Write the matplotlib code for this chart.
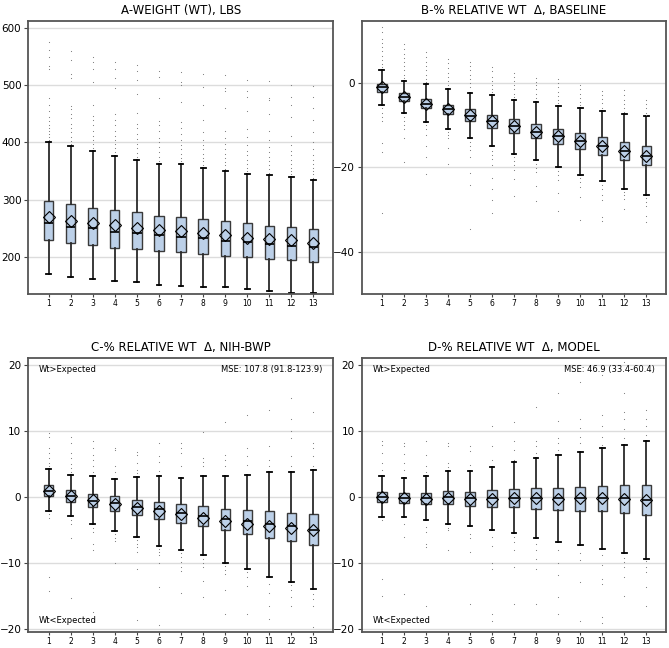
import matplotlib
matplotlib.use("Agg")
from matplotlib import pyplot as plt

visits = list(range(1, 14))

# A - weight, lbs
a_q1 = [229, 224, 220, 216, 213, 210.5, 207.6, 205, 202, 199.4, 197, 194, 191]
a_med = [260, 253, 250, 244, 241, 238, 234.5, 233, 228, 225.7, 222.8, 218.7, 217.5]
a_q3 = [298, 292, 286, 282, 278, 272, 269.5, 266, 262, 259, 254.3, 252, 248]
a_mean = [269, 262.5, 260, 255, 251, 247, 244.4, 241, 237.4, 233, 231, 228.6, 225]
a_lo = [170, 164, 161, 158, 156, 151, 149, 148, 147, 144.5, 140, 137.5, 137]
a_hi = [400, 393, 385, 377, 370, 363, 362, 356, 349.5, 345, 343, 339.6, 334]
a_out = [
    [405, 410, 415, 420, 425, 430, 438, 445, 455, 465, 478, 528, 533, 550, 562, 576],
    [398, 403, 410, 418, 425, 433, 442, 450, 458, 463, 513, 520, 545, 560],
    [390, 397, 405, 412, 420, 430, 440, 447, 465, 505, 528, 540, 550],
    [383, 390, 398, 405, 412, 420, 430, 440, 450, 495, 513, 528, 540],
    [375, 382, 390, 398, 406, 415, 425, 433, 452, 485, 510, 525, 535],
    [368, 375, 383, 392, 400, 408, 420, 430, 437, 478, 515, 525],
    [367, 373, 380, 388, 395, 405, 415, 425, 435, 470, 500, 505, 523],
    [360, 367, 373, 380, 388, 395, 405, 418, 440, 465, 497, 520],
    [354, 360, 366, 372, 380, 388, 398, 408, 420, 460, 490, 495, 518],
    [350, 356, 362, 370, 378, 385, 395, 410, 423, 455, 480, 490, 510],
    [347, 353, 360, 367, 375, 383, 392, 405, 420, 450, 475, 478, 508],
    [344, 350, 356, 362, 370, 378, 385, 395, 412, 445, 465, 480, 500],
    [338, 344, 350, 356, 362, 370, 378, 388, 400, 418, 440, 460, 480, 498],
]

# B - % relative wt change from baseline
b_q1 = [-2.2, -4.3, -6.0, -7.4, -9.0, -10.6, -11.9, -13.1, -14.5, -15.7, -17.1, -18.3, -19.5]
b_med = [-1.0, -3.2, -4.9, -6.2, -7.7, -8.9, -10.2, -11.5, -12.6, -13.7, -14.9, -16.0, -17.2]
b_q3 = [-0.1, -2.3, -3.7, -5.1, -6.2, -7.6, -8.5, -9.6, -11.0, -11.9, -12.8, -13.9, -14.8]
b_mean = [-1.0, -3.2, -4.9, -6.2, -7.6, -9.1, -10.2, -11.5, -12.6, -13.8, -15.0, -16.0, -17.4]
b_lo = [-5.1, -7.2, -9.3, -10.8, -13.0, -15.0, -16.7, -18.3, -19.8, -21.7, -23.3, -25.0, -26.6]
b_hi = [3.1, 0.6, -0.3, -1.3, -2.3, -2.9, -3.9, -4.5, -5.5, -5.8, -6.5, -7.4, -7.9]
b_out = [
    [13.2, 12, 10.5, 9.5, 8.5, 7.5, 6.5, 5.5, 4.5, 3.8, -6, -7, -8, -9, -14.3, -16.3, -30.7],
    [9.2, 8, 7, 6, 5, 4, 3, 2, 1.3, -8, -9, -10, -11, -13, -18.6],
    [7.3, 6.3, 5, 4, 3, 2, 1, 0.3, -10, -11, -12.3, -15, -17.5, -21.6],
    [5.8, 4.7, 3.5, 2.5, 1.5, 0.5, -0.5, -11.5, -12.3, -13, -15.5, -19.2],
    [5.1, 4, 3, 2, 1, 0, -1, -14, -15, -15.9, -17.6, -21.4, -24.2, -34.6],
    [3.9, 2.8, 1.5, 0.5, -0.5, -1.5, -2.2, -16, -17, -18, -19.4, -22.6, -25, -27.6, -30.7],
    [2.3, 1.5, 0.5, -0.5, -1.5, -2.5, -3.3, -17.5, -18.5, -19.5, -20.6, -22.8, -26.8],
    [1.1, 0.3, -0.5, -1.5, -2.5, -3.5, -19.2, -20.2, -21, -24.3, -28],
    [0.9, 0, -1, -2, -3, -4, -4.8, -20.8, -21.8, -23, -26, -30.4],
    [-0.5, -1.5, -2.5, -3.5, -4.5, -5.2, -22.5, -23.5, -24.6, -27, -32.4],
    [-1.8, -2.8, -3.8, -4.8, -5.8, -24.2, -25.2, -26.5, -27.7, -31.7, -32.7],
    [-1.7, -2.8, -4, -5, -6, -6.8, -25.8, -26.5, -27.4, -29.9, -49.7],
    [-4, -5, -6, -7, -7.5, -27.3, -28.2, -29.2, -31.6, -33],
]

# C - % relative wt change vs NIH-BWP
c_q1 = [0.2, -0.65, -1.4, -2.0, -2.7, -3.35, -3.9, -4.4, -5.0, -5.5, -6.1, -6.55, -7.15]
c_med = [1.0, 0.25, -0.5, -0.8, -1.5, -1.8, -2.3, -2.85, -3.35, -3.65, -4.05, -4.4, -4.9]
c_q3 = [1.9, 1.1, 0.5, 0.15, -0.35, -0.7, -1.0, -1.3, -1.7, -1.9, -2.1, -2.4, -2.6]
c_mean = [1.0, 0.25, -0.4, -1.0, -1.6, -2.0, -2.6, -3.1, -3.6, -4.0, -4.4, -4.6, -5.0]
c_lo = [-2.1, -2.9, -4.1, -5.1, -6.0, -7.3, -8.0, -8.8, -9.9, -10.8, -12.1, -12.8, -13.9]
c_hi = [4.3, 3.35, 3.2, 2.85, 3.1, 3.2, 3.0, 3.3, 3.3, 3.45, 3.9, 3.85, 4.15]
c_out = [
    [9.7, 9.1, 7.5, 6.7, 5.9, 5.2, 4.7, -2.5, -3.2, -12.1, -14.2],
    [9.2, 8.3, 6.7, 5.9, 5.1, 4.4, 3.8, -3.5, -4.0, -6.2, -15.3],
    [8.6, 7.5, 6.4, 5.7, 4.7, 3.9, -4.6, -5.3, -7, -8, -17.4],
    [7.5, 7.1, 4.7, 3.9, -5.6, -6.1, -6.6, -10],
    [6.9, 6.4, 5.2, 4.2, 3.7, -6.5, -7, -7.5, -8.3, -10.8, -18.6],
    [8.2, 6.2, 5.4, 4, -7.8, -8.3, -8.8, -10, -13.6, -19.3],
    [8.2, 7.5, 6.7, 4.7, -8.5, -9, -9.8, -10.5, -11.1, -14.5],
    [9.9, 5.9, 5.4, 4.7, -9.4, -10, -10.6, -12.7, -15.1],
    [11.4, 6.4, 5.7, 4.7, -10.4, -11, -11.6, -14, -17.7],
    [12.5, 7.5, 6.2, 4.9, -11.3, -12.1, -13.5, -17.7],
    [13.3, 7.8, 5.7, 4.7, -13.1, -14.5, -16.4, -18.4],
    [15, 11.8, 10, 9, 6.2, 4.7, -13.3, -14, -15.1, -16.4],
    [13, 8.2, 7.5, 6.2, 4.7, -14.6, -15.4, -16.4, -19.7],
]

# D - % relative wt change vs model
d_q1 = [-0.65, -0.8, -1.0, -1.05, -1.25, -1.4, -1.5, -1.7, -1.9, -2.0, -2.1, -2.3, -2.75]
d_med = [0.1, -0.05, -0.15, 0.0, -0.15, -0.15, -0.05, -0.05, -0.05, -0.05, -0.05, -0.15, -0.35]
d_q3 = [0.85, 0.65, 0.65, 0.9, 0.85, 1.1, 1.25, 1.45, 1.45, 1.6, 1.7, 1.8, 1.9]
d_mean = [0.0, -0.05, -0.2, -0.1, -0.2, -0.25, -0.15, -0.15, -0.25, -0.15, -0.15, -0.3, -0.45]
d_lo = [-3.0, -3.0, -3.45, -4.1, -4.3, -5.0, -5.4, -6.1, -6.75, -7.25, -7.8, -8.4, -9.3]
d_hi = [3.25, 2.9, 3.25, 4.0, 4.05, 4.6, 5.35, 6.0, 6.4, 6.85, 7.45, 7.9, 8.6]
d_out = [
    [8.5, 8, 6.7, 5.2, 4.2, -3.5, -12.3, -15],
    [8.2, 7.7, 6.5, 5.2, 4.2, -4, -6, -14.7],
    [8.5, 6.4, 4.7, 3.9, -4.5, -5.3, -7, -7.5, -16.4],
    [8.2, 7.7, 5.2, 4.6, -4.7, -5, -8],
    [7.7, 7, 4.9, -5.5, -6.2, -8.3, -16.2],
    [10.8, 7.7, 5.7, -6, -7.3, -10, -10.8, -17.6, -18.7],
    [11.4, 8.5, 7.2, 5.7, -6, -6.8, -8, -10.6, -16.2],
    [13.7, 8.5, 7.7, 6.7, -7, -8, -9.3, -10.8, -16.1],
    [15.8, 11.5, 9, 8.2, 7.2, -8, -10, -11.8, -15.1, -17.7],
    [17.5, 11.8, 10.5, 9.2, 8.2, -8.5, -9.5, -12.8, -18.8],
    [18.6, 12.5, 10.8, 9.2, 8, -8.8, -10.3, -12.3, -13.1, -18.2, -19.1],
    [20.5, 15.8, 13, 11.8, 10.3, 9, -9.2, -9.8, -10.6, -12, -15],
    [13.2, 11.8, 10.8, 9.5, -9.6, -10.6, -11.3, -13.6, -16.4],
]

FILL = '#bcd0e8'


def draw_panel(ax, title, q1, med, q3, mean, lo, hi, out, ylim, yticks):
    stats = []
    for i in range(len(visits)):
        stats.append(dict(q1=q1[i], med=med[i], q3=q3[i], mean=mean[i],
                          whislo=lo[i], whishi=hi[i], fliers=out[i]))
    ax.bxp(stats, positions=visits, widths=0.42, capwidths=0.22,
           showmeans=True, patch_artist=True,
           boxprops=dict(facecolor=FILL, edgecolor='#3a3a3a', linewidth=1.0),
           whiskerprops=dict(color='#2a2a2a', linewidth=1.3),
           capprops=dict(color='black', linewidth=1.3),
           medianprops=dict(color='black', linewidth=1.2),
           meanprops=dict(marker='D', markerfacecolor='none', markeredgecolor='black',
                          markersize=6.5, markeredgewidth=0.8),
           flierprops=dict(marker='.', markersize=1.6, markerfacecolor='#777777',
                           markeredgecolor='none'))
    ax.set_xlim(0.08, 13.9)
    ax.set_ylim(*ylim)
    ax.set_yticks(yticks)
    ax.set_xticks(visits)
    ax.set_xticklabels([str(v) for v in visits])
    ax.yaxis.grid(True, color='#dcdcdc', linewidth=1.0)
    ax.set_axisbelow(True)
    ax.tick_params(axis='y', labelsize=7.5, length=3, pad=2, color='#444444')
    ax.tick_params(axis='x', labelsize=5.5, length=2, pad=1.5, color='#444444')
    for s in ax.spines.values():
        s.set_color('#555555')
        s.set_linewidth(1.3)
    ax.set_title(title, fontsize=8.5, pad=5)


fig = plt.figure(figsize=(6.69, 6.48), dpi=100)
axA = fig.add_axes([0.0423, 0.5463, 0.4559, 0.4218])
axB = fig.add_axes([0.5406, 0.5463, 0.4549, 0.4218])
axC = fig.add_axes([0.0423, 0.0252, 0.4559, 0.4228])
axD = fig.add_axes([0.5406, 0.0252, 0.4549, 0.4228])

draw_panel(axA, 'A-WEIGHT (WT), LBS', a_q1, a_med, a_q3, a_mean, a_lo, a_hi, a_out,
           (135, 613), [200, 300, 400, 500, 600])
draw_panel(axB, 'B-% RELATIVE WT  Δ, BASELINE', b_q1, b_med, b_q3, b_mean, b_lo, b_hi, b_out,
           (-50, 14.8), [-40, -20, 0])
draw_panel(axC, 'C-% RELATIVE WT  Δ, NIH-BWP', c_q1, c_med, c_q3, c_mean, c_lo, c_hi, c_out,
           (-20.35, 21.15), [-20, -10, 0, 10, 20])
draw_panel(axD, 'D-% RELATIVE WT  Δ, MODEL', d_q1, d_med, d_q3, d_mean, d_lo, d_hi, d_out,
           (-20.35, 21.15), [-20, -10, 0, 10, 20])

for ax, mse in [(axC, 'MSE: 107.8 (91.8-123.9)'), (axD, 'MSE: 46.9 (33.4-60.4)')]:
    ax.text(0.035, 19.4, 'Wt>Expected', fontsize=6, va='center', ha='left',
            transform=ax.get_yaxis_transform())
    ax.text(0.035, -18.7, 'Wt<Expected', fontsize=6, va='center', ha='left',
            transform=ax.get_yaxis_transform())
    ax.text(0.965, 19.4, mse, fontsize=6, va='center', ha='right',
            transform=ax.get_yaxis_transform())

plt.savefig('out.png', dpi=100)
